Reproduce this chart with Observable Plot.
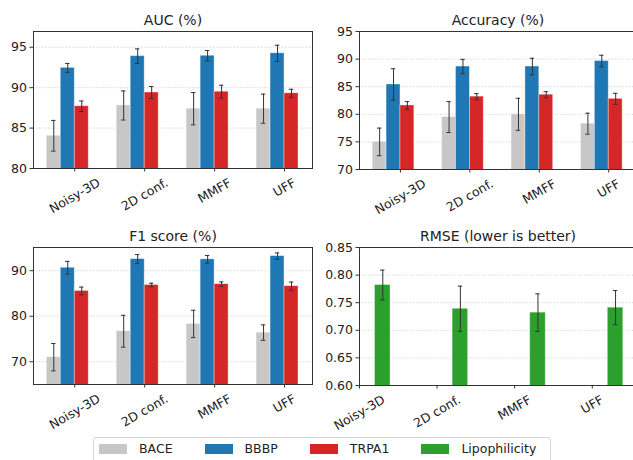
<!DOCTYPE html>
<html><head><meta charset="utf-8">
<script src="https://cdn.jsdelivr.net/npm/d3@7"></script>
<script src="https://cdn.jsdelivr.net/npm/@observablehq/plot@0.6"></script>
<style>
html,body{margin:0;padding:0;background:#fff;}
#root{position:relative;width:633px;height:460px;overflow:hidden;font-family:"DejaVu Sans",sans-serif;background:#fff;}
.panel{position:absolute;}
#legend{position:absolute;left:93px;top:437px;width:458px;height:32px;border:1px solid #d4d4d4;border-radius:3px;box-sizing:border-box;display:flex;align-items:flex-start;padding:3px 0 0 5px;font-size:12.5px;line-height:15px;color:#222;background:#fff;}
#legend .item{display:flex;align-items:center;margin-right:32px;height:15px;}
#legend .sw{width:28px;height:10px;margin-right:12px;box-sizing:border-box;}
</style></head><body><div id="root"><div id="legend"></div></div>
<script>
// ---- data ----
const methods = ["Noisy-3D", "2D conf.", "MMFF", "UFF"];
const datasets = ["BACE", "BBBP", "TRPA1", "Lipophilicity"];
const colors = ["#c7c7c7", "#1f77b4", "#d62728", "#2ca02c"];

const titles = ["AUC (%)", "Accuracy (%)", "F1 score (%)", "RMSE (lower is better)"];

const aucBACE = [84.05, 87.8, 87.4, 87.4];
const aucBACEErr = [1.9, 1.8, 2.0, 1.8];
const aucBBBP = [92.45, 93.9, 93.95, 94.25];
const aucBBBPErr = [0.55, 0.9, 0.65, 1.0];
const aucTRPA1 = [87.7, 89.4, 89.5, 89.3];
const aucTRPA1Err = [0.65, 0.75, 0.8, 0.5];

const accBACE = [75.0, 79.5, 80.0, 78.3];
const accBACEErr = [2.5, 2.8, 2.9, 1.9];
const accBBBP = [85.4, 88.65, 88.65, 89.65];
const accBBBPErr = [2.85, 1.3, 1.5, 1.05];
const accTRPA1 = [81.6, 83.2, 83.55, 82.8];
const accTRPA1Err = [0.7, 0.55, 0.55, 1.0];

const f1BACE = [71.0, 76.7, 78.3, 76.4];
const f1BACEErr = [3.0, 3.5, 3.0, 1.7];
const f1BBBP = [90.65, 92.55, 92.5, 93.2];
const f1BBBPErr = [1.4, 1.0, 0.85, 0.7];
const f1TRPA1 = [85.55, 86.85, 87.05, 86.6];
const f1TRPA1Err = [0.85, 0.4, 0.5, 0.9];

const rmseLipo = [0.782, 0.739, 0.732, 0.741];
const rmseLipoErr = [0.027, 0.041, 0.034, 0.031];

const aucTicks = [80, 85, 90, 95];
const accTicks = [70, 75, 80, 85, 90, 95];
const f1Ticks = [70, 80, 90];
const rmseTicks = [0.60, 0.65, 0.70, 0.75, 0.80, 0.85];

// ---- drawing ----
const barW = 0.2;
const tickFont = 12.5;
const measure = document.createElement("canvas").getContext("2d");
measure.font = tickFont + "px 'DejaVu Sans'";

function panel(cfg) {
  const {left, top, width, height, mL, mR, mT, mB, xDomain, yDomain, yTicks, yFmt, title, series} = cfg;
  const rows = series.flatMap(s => {
    const k = datasets.indexOf(s.name);
    const off = (k - 2) * barW;
    return s.values.map((v, i) => ({
      name: s.name, x1: i + off, x2: i + off + barW, xc: i + off + barW / 2,
      v, lo: v - s.errs[i], hi: v + s.errs[i]
    }));
  });
  const pxPerUnit = (width - mL - mR) / (xDomain[1] - xDomain[0]);
  const cap = 2.2 / pxPerUnit;
  const gridTicks = yTicks.filter(t => t > yDomain[0] && t < yDomain[1]);
  const labelMarks = methods.map((m, i) => {
    const w = measure.measureText(m).width;
    const dy = 7 + (w * 0.5 + tickFont * 1.17 * 0.866) / 2;
    return Plot.text([m], {x: () => i, text: d => d, frameAnchor: "bottom", dy, rotate: -30,
      textAnchor: "middle", lineAnchor: "middle", fontSize: tickFont, fill: "#222"});
  });
  const svg = Plot.plot({
    width, height, marginLeft: mL, marginRight: mR, marginTop: mT, marginBottom: mB,
    style: {fontFamily: "'DejaVu Sans', sans-serif", fontSize: "12px", color: "#222", background: "transparent", overflow: "visible"},
    x: {type: "linear", domain: xDomain},
    y: {type: "linear", domain: yDomain},
    color: {domain: datasets, range: colors},
    marks: [
      Plot.gridY(gridTicks, {stroke: "#c8c8c8", strokeOpacity: 1, strokeWidth: 0.7, strokeDasharray: "1.5,1.5"}),
      Plot.rect(rows, {x1: "x1", x2: "x2", y1: () => 0, y2: "v", fill: "name", inset: 0, clip: true,
        stroke: "white", strokeOpacity: 0.45, strokeWidth: 0.8}),
      Plot.ruleX(rows, {x: "xc", y1: "lo", y2: "hi", stroke: "#333", strokeWidth: 1}),
      Plot.ruleY(rows, {y: "hi", x1: d => d.xc - cap, x2: d => d.xc + cap, stroke: "#333", strokeWidth: 1}),
      Plot.ruleY(rows, {y: "lo", x1: d => d.xc - cap, x2: d => d.xc + cap, stroke: "#333", strokeWidth: 1}),
      Plot.frame({stroke: "#333", strokeWidth: 1}),
      Plot.axisY({ticks: yTicks, tickFormat: yFmt, tickSize: 3.5, tickPadding: 3, fontSize: tickFont, label: null, stroke: "#333"}),
      Plot.axisX({ticks: methods.map((m, i) => i), tickFormat: () => "", tickSize: 3.5, label: null, stroke: "#333"}),
      ...labelMarks,
      Plot.text([title], {frameAnchor: "top", dy: -11, text: d => d, fontSize: 14, lineAnchor: "middle", fill: "#222"})
    ]
  });
  svg.classList.add("panel");
  svg.style.left = left + "px";
  svg.style.top = top + "px";
  document.getElementById("root").appendChild(svg);
}

const xMain = [-0.59, 3.4];
const fmtInt = d3.format("d");

panel({left: 0, top: 0, width: 320, height: 220, mL: 33, mR: 8, mT: 31, mB: 52,
  xDomain: xMain, yDomain: [80, 96.95], yTicks: aucTicks, yFmt: fmtInt, title: titles[0],
  series: [
    {name: "BACE", values: aucBACE, errs: aucBACEErr},
    {name: "BBBP", values: aucBBBP, errs: aucBBBPErr},
    {name: "TRPA1", values: aucTRPA1, errs: aucTRPA1Err}
  ]});

panel({left: 320, top: 0, width: 320, height: 220, mL: 39, mR: 4, mT: 31, mB: 51,
  xDomain: xMain, yDomain: [70, 95], yTicks: accTicks, yFmt: fmtInt, title: titles[1],
  series: [
    {name: "BACE", values: accBACE, errs: accBACEErr},
    {name: "BBBP", values: accBBBP, errs: accBBBPErr},
    {name: "TRPA1", values: accTRPA1, errs: accTRPA1Err}
  ]});

panel({left: 0, top: 220, width: 320, height: 220, mL: 33, mR: 8, mT: 27, mB: 56,
  xDomain: xMain, yDomain: [65, 95.1], yTicks: f1Ticks, yFmt: fmtInt, title: titles[2],
  series: [
    {name: "BACE", values: f1BACE, errs: f1BACEErr},
    {name: "BBBP", values: f1BBBP, errs: f1BBBPErr},
    {name: "TRPA1", values: f1TRPA1, errs: f1TRPA1Err}
  ]});

panel({left: 320, top: 220, width: 320, height: 220, mL: 39, mR: 4, mT: 27, mB: 55,
  xDomain: [0, 3.57], yDomain: [0.6, 0.85], yTicks: rmseTicks, yFmt: d3.format(".2f"), title: titles[3],
  series: [
    {name: "Lipophilicity", values: rmseLipo, errs: rmseLipoErr}
  ]});

// legend
const legend = document.getElementById("legend");
datasets.forEach((name, i) => {
  const item = document.createElement("div");
  item.className = "item";
  const sw = document.createElement("div");
  sw.className = "sw";
  sw.style.background = colors[i];
  const t = document.createElement("span");
  t.textContent = name;
  item.appendChild(sw);
  item.appendChild(t);
  legend.appendChild(item);
});
</script>
</body></html>
